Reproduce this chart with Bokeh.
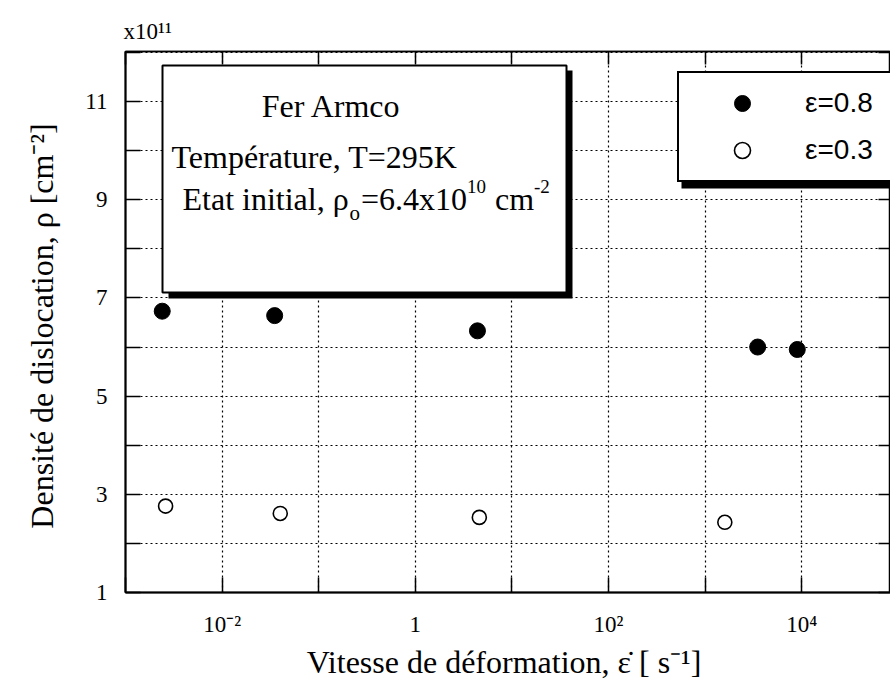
import math
from bokeh.plotting import figure
from bokeh.models import (FixedTicker, LogAxis, LinearAxis, BoxAnnotation, Label,
                          Legend, LegendItem, Range1d, Title)
from bokeh.embed import file_html
from bokeh.resources import INLINE

# ---------------- data ----------------
rate_eps08 = [0.0024, 0.035, 4.4, 3500.0, 9000.0]      # strain rate [1/s]
rho_eps08 = [6.73, 6.64, 6.33, 6.00, 5.95]             # x1e11 cm^-2
rate_eps03 = [0.0026, 0.040, 4.6, 1600.0]
rho_eps03 = [2.76, 2.61, 2.53, 2.43]
series_labels = ["ε=0.8", "ε=0.3"]

x_ticks = [1e-3, 1e-2, 1e-1, 1.0, 1e1, 1e2, 1e3, 1e4]
x_tick_labels = ["", "10⁻²", "", "1", "", "10²", "", "10⁴"]
y_ticks = [1, 2, 3, 4, 5, 6, 7, 8, 9, 10, 11, 12]
y_tick_labels = ["1", "", "3", "", "5", "", "7", "", "9", "", "11", ""]

x_title = "Vitesse de déformation, ε̇  [ s⁻¹]"
y_title = "Densité de dislocation, ρ  [cm⁻²]"
scale_note = "x10¹¹"
box_title = "Fer Armco"
box_line1 = "Température, T=295K"
# second box line, split into (text, role) pieces: main / sub / sup
box_line2 = [("Etat initial, ρ", "main"), ("o", "sub"), ("=6.4x10", "main"),
             ("10", "sup"), (" cm", "main"), ("-2", "sup")]

SERIF = "Liberation Serif"

# ---------------- figure ----------------
W, H = 890, 682
FL, FT, FR, FB = 125, 51, 890, 592          # frame edges in page pixels
PX_DEC = 96.6                               # pixels per decade
X0 = 1e-3
X1 = 10 ** (math.log10(X0) + (FR - FL) / PX_DEC)
Y0, Y1 = 1.0, 12.02
PX_UNIT = (FB - FT) / (Y1 - Y0)

p = figure(width=W, height=H, x_axis_type="log",
           x_range=Range1d(X0, X1), y_range=Range1d(Y0, Y1),
           output_backend="svg", toolbar_location=None,
           min_border_left=FL, min_border_right=W - FR,
           min_border_top=FT, min_border_bottom=H - FB,
           background_fill_color="white", border_fill_color="white")

p.outline_line_color = "black"
p.outline_line_width = 1.5

xt = FixedTicker(ticks=x_ticks, minor_ticks=[])
yt = FixedTicker(ticks=y_ticks, minor_ticks=[])

xa = p.xaxis[0]
xa.ticker = xt
xa.major_label_overrides = {t: l for t, l in zip(x_ticks, x_tick_labels)}
ya = p.yaxis[0]
ya.ticker = yt
ya.major_label_overrides = {t: l for t, l in zip(y_ticks, y_tick_labels)}

for ax in (xa, ya):
    ax.major_tick_in = 15
    ax.major_tick_out = 0
    ax.minor_tick_in = 0
    ax.minor_tick_out = 0
    ax.axis_line_width = 2
    ax.major_tick_line_width = 1.5
    ax.major_label_text_font = SERIF
    ax.major_label_text_font_size = "23px"
    ax.major_label_text_color = "black"
    ax.axis_label_text_font = SERIF
    ax.axis_label_text_font_size = "32px"
    ax.axis_label_text_font_style = "normal"
    ax.axis_label_text_color = "black"

xa.axis_label = x_title
xa.major_label_standoff = 19
xa.axis_label_standoff = 4
ya.axis_label = y_title
ya.major_label_standoff = 18
ya.axis_label_standoff = 22

top_axis = LogAxis(ticker=xt, major_tick_in=13, major_tick_out=0,
                   major_label_text_font_size="0px", major_label_standoff=0,
                   axis_line_width=1.5, major_tick_line_width=1.5)
top_axis.major_label_overrides = {t: "" for t in x_ticks}
p.add_layout(top_axis, "above")
right_axis = LinearAxis(ticker=yt, major_tick_in=12, major_tick_out=0,
                        major_label_text_font_size="0px", major_label_standoff=0,
                        axis_line_width=1.5, major_tick_line_width=1.5)
right_axis.major_label_overrides = {t: "" for t in y_ticks}
p.add_layout(right_axis, "right")

p.title = Title(text=scale_note, align="left", text_font=SERIF,
                text_font_size="23px", text_font_style="normal",
                text_color="black", standoff=15, offset=-2)

for g, tk in ((p.xgrid[0], xt), (p.ygrid[0], yt)):
    g.ticker = tk
    g.grid_line_color = "black"
    g.grid_line_alpha = 1.0
    g.grid_line_width = 1.2
    g.grid_line_dash = "2 3"

# ---------------- data markers ----------------
r08 = p.scatter(rate_eps08, rho_eps08, marker="circle", size=16,
                fill_color="black", line_color="black")
r03 = p.scatter(rate_eps03, rho_eps03, marker="circle", size=14,
                fill_color="white", line_color="black", line_width=1.6)

# helpers: page pixel position -> data coordinates
def dx(px):
    return 10 ** (math.log10(X0) + (px - FL) / PX_DEC)
def dy(py):
    return Y1 - (py - FT) / PX_UNIT

# Times-metric advance widths (per 1000 em) for composing the box text
ADV = {' ': 250, ',': 250, '.': 250, '=': 564, '-': 333, 'E': 611, 'F': 556,
       't': 278, 'a': 444, 'i': 278, 'n': 500, 'l': 278, 'x': 500, 'c': 444,
       'm': 778, 'o': 500, 'ρ': 520}
def text_w(s, size):
    return sum(ADV.get(ch, 500) for ch in s) * size / 1000.0

# ---------------- annotation box ----------------
p.add_layout(BoxAnnotation(left=dx(168), right=dx(572), top=dy(70), bottom=dy(298),
                           fill_color="black", fill_alpha=1.0, line_color=None))
p.add_layout(BoxAnnotation(left=dx(162), right=dx(566), top=dy(65), bottom=dy(292),
                           fill_color="white", fill_alpha=1.0,
                           line_color="black", line_width=2, line_alpha=1.0))
p.add_layout(Label(x=dx(331), y=dy(105), text=box_title, text_align="center",
                   text_baseline="alphabetic", text_font=SERIF,
                   text_font_size="32px", text_color="black"))
p.add_layout(Label(x=dx(171), y=dy(156), text=box_line1, text_align="left",
                   text_baseline="alphabetic", text_font=SERIF,
                   text_font_size="32px", text_color="black"))

role_style = {"main": (32, 0), "sub": (21, 14), "sup": (19, -12)}
cursor = 182.0
base = 198.0
for txt, role in box_line2:
    size, shift = role_style[role]
    lead = txt[:len(txt) - len(txt.lstrip(" "))]
    cursor += text_w(lead, size)            # leading spaces are not drawn in SVG
    body = txt.lstrip(" ")
    p.add_layout(Label(x=dx(cursor), y=dy(base + shift), text=body,
                       text_align="left", text_baseline="alphabetic",
                       text_font=SERIF, text_font_size=f"{size}px",
                       text_color="black"))
    cursor += text_w(body, size) + (1 if role != "main" else 0)

# ---------------- legend ----------------
p.add_layout(BoxAnnotation(left=dx(681), right=None, top=dy(180), bottom=dy(188),
                           fill_color="black", fill_alpha=1.0, line_color=None))
legend = Legend(items=[LegendItem(label=series_labels[0], renderers=[r08]),
                       LegendItem(label=series_labels[1], renderers=[r03])],
                location=(677 - FL, FB - 182), padding=10, margin=0, spacing=7,
                glyph_width=106, glyph_height=40, label_height=40,
                label_width=75, label_standoff=10,
                label_text_font="Liberation Sans", label_text_font_size="28px",
                label_text_color="black",
                border_line_color="black", border_line_width=2, border_line_alpha=1.0,
                background_fill_color="white", background_fill_alpha=1.0)
p.add_layout(legend)

open("out.html", "w").write(file_html(p, INLINE))
